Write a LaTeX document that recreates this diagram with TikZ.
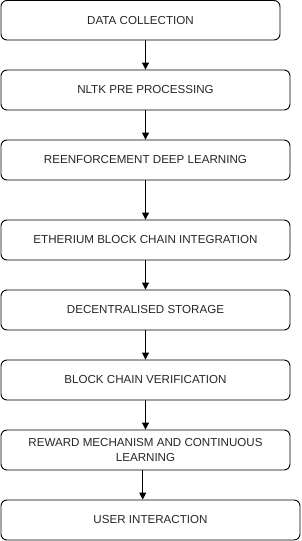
\documentclass[tikz,border=0pt]{standalone}
\usepackage{fontspec}
\setmainfont{Liberation Sans}
\usetikzlibrary{arrows.meta}
\begin{document}
\begin{tikzpicture}[x=1pt,y=-1pt,
  box/.style={draw=black, line width=0.9pt, rounded corners=6pt, minimum height=40pt, inner sep=0pt, align=center,
    font=\fontsize{11.6}{14.6}\selectfont, text=black!85},
  arr/.style={draw=black, line width=0.9pt, -{Triangle[length=7pt,width=7pt]}}]
\useasboundingbox (0,0) rectangle (301,541);
\node[box, minimum width=279pt, minimum height=39.5pt] (b1) at (140.5,20.25) {DATA COLLECTION};
\node[box, minimum width=289pt] (b2) at (145.5,90) {NLTK PRE PROCESSING};
\node[box, minimum width=289pt] (b3) at (145.5,160) {REENFORCEMENT DEEP LEARNING};
\node[box, minimum width=289pt] (b4) at (145.5,240) {ETHERIUM BLOCK CHAIN INTEGRATION};
\node[box, minimum width=289pt] (b5) at (145.5,310) {DECENTRALISED STORAGE};
\node[box, minimum width=289pt] (b6) at (145.5,380) {BLOCK CHAIN VERIFICATION};
\node[box, minimum width=289pt] (b7) at (145.5,450) {REWARD MECHANISM AND CONTINUOUS\\LEARNING};
\node[box, minimum width=299pt] (b8) at (150.5,520) {USER INTERACTION};
\draw[arr] ([xshift=5pt]b1.south) -- (b2.north);
\draw[arr] (b2) -- (b3);
\draw[arr] (b3) -- (b4);
\draw[arr] (b4) -- (b5);
\draw[arr] (b5) -- (b6);
\draw[arr] (b6) -- (b7);
\draw[arr] ([xshift=-2.8pt]b7.south) -- ([xshift=-7.8pt]b8.north);
\end{tikzpicture}
\end{document}
